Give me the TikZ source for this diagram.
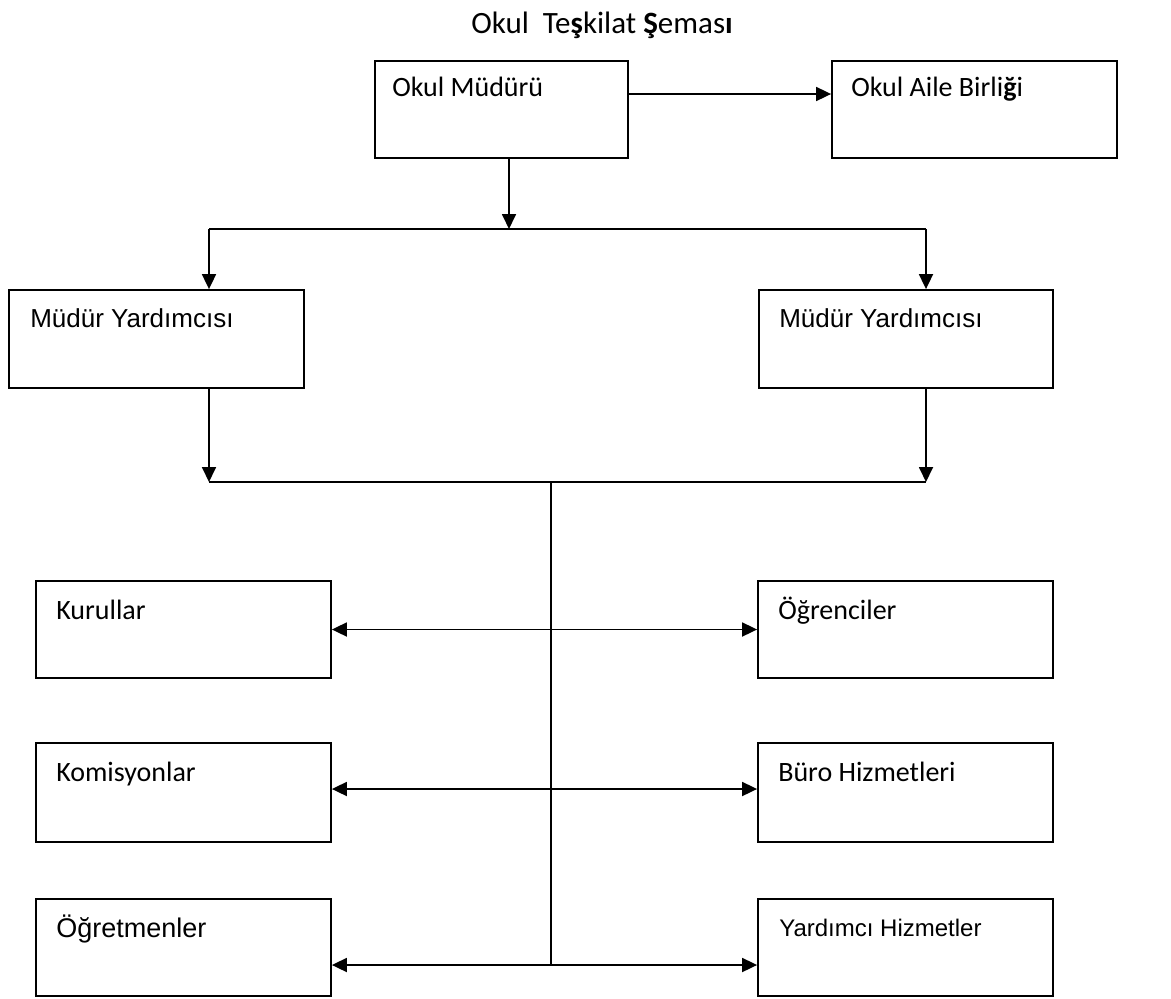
\documentclass[tikz,border=0pt]{standalone}
\usepackage{fontspec}
\setmainfont{Carlito}
\newfontfamily\arialfont{Liberation Sans}
\usetikzlibrary{positioning,arrows.meta}

\begin{document}
\begin{tikzpicture}[x=1pt, y=-1pt,
    kutu/.style={draw, line width=1.8pt, minimum width=#1, minimum height=97pt, inner sep=0pt},
    yazi/.style={anchor=base west, inner sep=0pt, font=\fontsize{28}{32}\selectfont},
    ok/.style={-{Triangle[length=15pt,width=14pt]}, line width=1.8pt},
    ciftok/.style={{Triangle[length=15pt,width=14pt]}-{Triangle[length=15pt,width=14pt]}, line width=1.8pt}
]
    \useasboundingbox (0,0) rectangle (1171,999);

    \node[anchor=base, inner sep=0pt, font=\fontsize{31}{36}\selectfont] (baslik) at (602,33)
        {Okul\ \ Te{\bfseries ş}kilat {\bfseries Ş}emas{\bfseries ı}};

    % ust kisim
    \node[kutu=253pt] (om) at (501.5,109.5) {};
    \node[kutu=285pt] (oab) at (974.5,109.5) {};
    \node[yazi] (omy) at ([shift={(18,36)}]om.north west) {Okul Müdürü};
    \node[yazi] (oaby) at ([shift={(20,36)}]oab.north west) {Okul Aile Birli{\bfseries ğ}i};

    \node[kutu=295pt, minimum height=98pt] (myl) at (156.5,339) {};
    \node[kutu=294pt, minimum height=98pt] (myr) at (906,339) {};
    \node[yazi, font=\arialfont\fontsize{26}{30}\selectfont] (myly) at ([shift={(22,38)}]myl.north west) {Müdür Yardımcısı};
    \node[yazi, font=\arialfont\fontsize{26}{30}\selectfont] (myry) at ([shift={(21,38)}]myr.north west) {Müdür Yardımcısı};

    % alt kisim
    \node[kutu=295pt] (kur) at (183.5,629.5) {};
    \node[kutu=295pt, minimum height=99pt] (kom) at (183.5,792.5) {};
    \node[kutu=295pt] (ogt) at (183.5,947.5) {};
    \node[kutu=295pt] (ogr) at (905.5,629.5) {};
    \node[kutu=295pt, minimum height=99pt] (buro) at (905.5,792.5) {};
    \node[kutu=295pt] (yh) at (905.5,947.5) {};

    \node[yazi] (kury) at ([shift={(21,39)}]kur.north west) {Kurullar};
    \node[yazi] (komy) at ([shift={(21,39)}]kom.north west) {Komisyonlar};
    \node[yazi, font=\arialfont\fontsize{27}{30}\selectfont] (ogty) at ([shift={(21,39)}]ogt.north west) {Öğretmenler};
    \node[yazi] (ogry) at ([shift={(21,39)}]ogr.north west) {Öğrenciler};
    \node[yazi] (buroy) at ([shift={(21,39)}]buro.north west) {Büro Hizmetleri};
    \node[yazi, font=\arialfont\fontsize{24}{28}\selectfont] (yhy) at ([shift={(22,38)}]yh.north west) {Yardımcı Hizmetler};

    % baglantilar
    \draw[ok] ([yshift=15.5pt]om.east) -- ([yshift=15.5pt]oab.west);

    \coordinate (ust) at (509,229);
    \coordinate (ustsol) at (209,229);
    \coordinate (ustsag) at (926,229);
    \draw[ok] (om.south -| ust) -- (ust);
    \draw[line width=1.8pt] (ustsol) -- (ustsag);
    \draw[ok] (ustsol) -- (ustsol |- myl.north);
    \draw[ok] (ustsag) -- (ustsag |- myr.north);

    \coordinate (altsol) at (209,482);
    \coordinate (altsag) at (926,482);
    \coordinate (orta) at (551,482);
    \draw[ok] (myl.south -| altsol) -- (altsol);
    \draw[ok] (myr.south -| altsag) -- (altsag);
    \draw[line width=1.8pt] (altsol) -- (altsag);

    \coordinate (ogtok) at ([yshift=-17.5pt]ogt.east);
    \coordinate (yhok) at ([yshift=-17.5pt]yh.west);
    \draw[line width=1.8pt] (orta) -- (orta |- ogtok);

    \draw[ciftok] (kur.east) -- (ogr.west);
    \draw[ciftok] ([yshift=3.5pt]kom.east) -- ([yshift=3.5pt]buro.west);
    \draw[ciftok] (ogtok) -- (yhok);
\end{tikzpicture}
\end{document}
